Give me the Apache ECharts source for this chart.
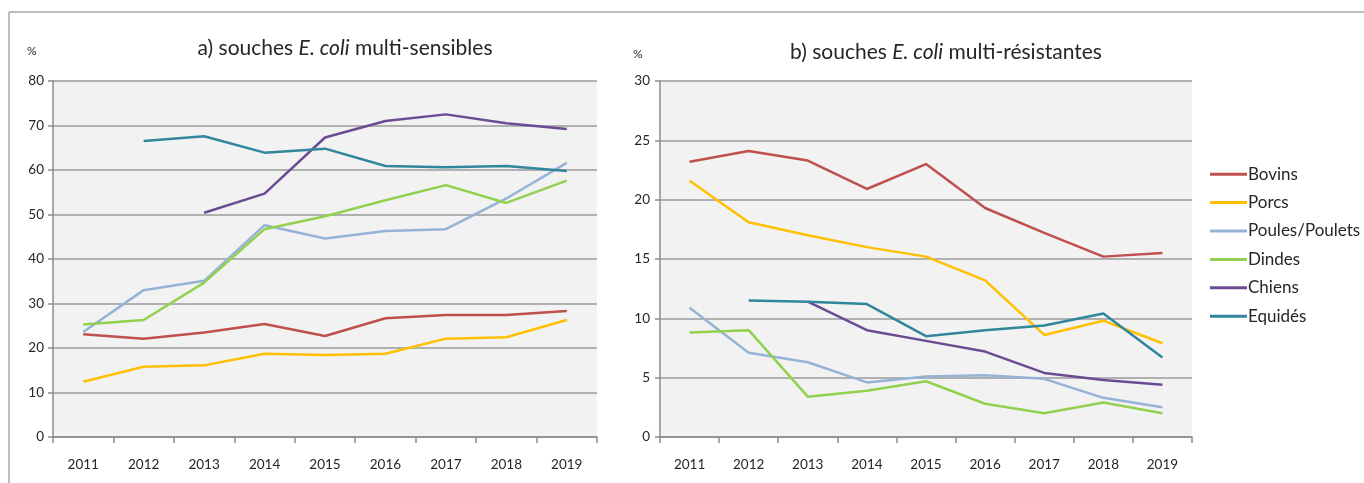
<!DOCTYPE html>
<html><head><meta charset="utf-8">
<script src="https://cdn.jsdelivr.net/npm/echarts@6/dist/echarts.min.js"></script>
<style>html,body{margin:0;padding:0;background:#fff}#c{width:1364px;height:483px}</style>
</head><body><div id="c"></div>
<script>
const years = ['2011','2012','2013','2014','2015','2016','2017','2018','2019'];
const seriesNames = ['Bovins','Porcs','Poules/Poulets','Dindes','Chiens','Equidés'];
const colors = ['#C0504D','#FFC000','#95B3D7','#92D050','#6B4C93','#31859C'];
// a) multi-sensibles
const sensBovins = [23.1,22.1,23.5,25.4,22.7,26.7,27.4,27.4,28.3];
const sensPorcs = [12.4,15.8,16.1,18.7,18.4,18.7,22.1,22.4,26.3];
const sensPoules = [23.6,33.0,35.1,47.6,44.6,46.3,46.7,53.6,61.6];
const sensDindes = [25.3,26.3,34.7,46.7,49.6,53.2,56.6,52.6,57.6];
const sensChiens = [null,null,50.4,54.7,67.3,71.0,72.5,70.5,69.2];
const sensEquides = [null,66.5,67.6,63.9,64.8,60.9,60.6,60.9,59.8];
// b) multi-résistantes
const resBovins = [23.2,24.1,23.3,20.9,23.0,19.3,17.2,15.2,15.5];
const resPorcs = [21.6,18.1,17.0,16.0,15.2,13.2,8.6,9.8,7.9];
const resPoules = [10.9,7.1,6.3,4.6,5.1,5.2,4.9,3.3,2.5];
const resDindes = [8.8,9.0,3.4,3.9,4.7,2.8,2.0,2.9,2.0];
const resChiens = [null,null,11.4,9.0,8.1,7.2,5.4,4.8,4.4];
const resEquides = [null,11.5,11.4,11.2,8.5,9.0,9.4,10.4,6.7];

const sensData = [sensBovins,sensPorcs,sensPoules,sensDindes,sensChiens,sensEquides];
const resData = [resBovins,resPorcs,resPoules,resDindes,resChiens,resEquides];

const FONT = 'Lato';
const txt = '#262626';
function xAxis(gi){
  return {type:'category', gridIndex:gi, data:years, boundaryGap:true,
    axisLine:{lineStyle:{color:'#8c8c8c',width:1.5}},
    axisTick:{show:true,length:6,lineStyle:{color:'#8c8c8c',width:1.5}},
    axisLabel:{color:txt,fontFamily:FONT,fontSize:13.5,margin:21}};
}
function yAxis(gi,max,interval,m){
  return {type:'value', gridIndex:gi, min:0, max:max, interval:interval,
    axisLine:{show:true,lineStyle:{color:'#8c8c8c',width:1.5}},
    axisTick:{show:true,length:5,lineStyle:{color:'#8c8c8c',width:1.5}},
    splitLine:{show:true,lineStyle:{color:'#9a9a9a',width:1.5}},
    axisLabel:{color:txt,fontFamily:FONT,fontSize:13.5,margin:m}};
}
const series = [];
seriesNames.forEach((n,i)=>{
  series.push({name:n,type:'line',xAxisIndex:0,yAxisIndex:0,data:sensData[i],symbol:'none',
    lineStyle:{width:2.5,color:colors[i]},itemStyle:{color:colors[i]},connectNulls:false,silent:true,z:3});
});
seriesNames.forEach((n,i)=>{
  series.push({name:n,type:'line',xAxisIndex:1,yAxisIndex:1,data:resData[i],symbol:'none',
    lineStyle:{width:2.5,color:colors[i]},itemStyle:{color:colors[i]},connectNulls:false,silent:true,z:3});
});
const titleRich = {
  n:{fontFamily:FONT,fontSize:21,color:txt,fontWeight:'normal'},
  i:{fontFamily:FONT,fontSize:21,color:txt,fontStyle:'italic',fontWeight:'normal'}
};
const chart = echarts.init(document.getElementById('c'),null,{renderer:'canvas'});
chart.setOption({
  animation:false,
  backgroundColor:'#ffffff',
  title:[
    {text:'{n|a) souches }{i|E. coli}{n| multi-sensibles}',left:340,top:33,textAlign:'center',textStyle:{fontWeight:'normal',rich:titleRich}},
    {text:'{n|b) souches }{i|E. coli}{n| multi-résistantes}',left:941,top:37,textAlign:'center',textStyle:{fontWeight:'normal',rich:titleRich}},
    {text:'%',left:22,top:40,textStyle:{fontFamily:FONT,fontSize:12,color:txt,fontWeight:'normal'}},
    {text:'%',left:628,top:43,textStyle:{fontFamily:FONT,fontSize:12,color:txt,fontWeight:'normal'}}
  ],
  legend:{orient:'vertical',left:1205,top:160,icon:'rect',itemWidth:37,itemHeight:3,itemGap:10,
    data:seriesNames,textStyle:{fontFamily:FONT,fontSize:17,lineHeight:18.4,color:txt,padding:[0,0,0,-4]},selectedMode:false},
  grid:[
    {left:53,top:81,width:544,height:356,show:true,backgroundColor:'#f2f2f2',borderWidth:0},
    {left:660,top:81,width:532,height:356,show:true,backgroundColor:'#f2f2f2',borderWidth:0}
  ],
  xAxis:[xAxis(0),xAxis(1)],
  yAxis:[yAxis(0,80,10,9),yAxis(1,30,5,10)],
  graphic:[
    {type:'line',shape:{x1:9,y1:12,x2:1364,y2:12},style:{stroke:'#a6a6a6',lineWidth:1.5},silent:true},
    {type:'line',shape:{x1:9,y1:12,x2:9,y2:483},style:{stroke:'#a6a6a6',lineWidth:1.5},silent:true}
  ],
  series:series
});
</script></body></html>
